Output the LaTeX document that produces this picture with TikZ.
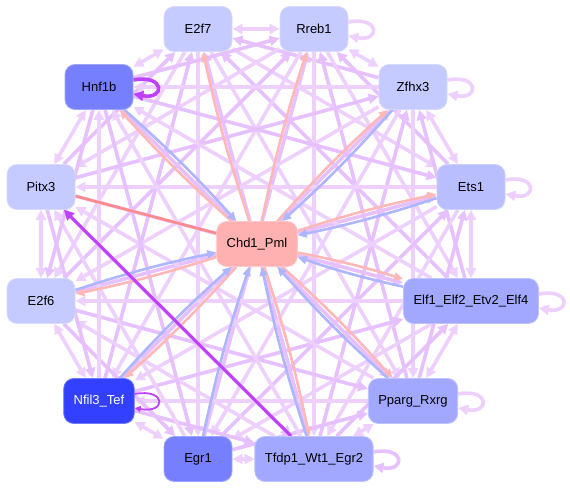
\documentclass[tikz,border=0pt]{standalone}
\usepackage{fontspec}
\setmainfont{Liberation Sans}
\usetikzlibrary{positioning,arrows.meta}

\definecolor{tflight}{RGB}{197,202,255}
\definecolor{tfmid}{RGB}{184,190,255}
\definecolor{tfmed}{RGB}{162,168,255}
\definecolor{tfdark}{RGB}{118,128,255}
\definecolor{tfdeep}{RGB}{51,64,255}
\definecolor{tfpink}{RGB}{255,176,176}
\definecolor{edgelilac}{RGB}{238,208,255}
\definecolor{edgeviolet}{RGB}{230,192,255}
\definecolor{edgesalmon}{RGB}{255,184,184}
\definecolor{edgered}{RGB}{255,138,138}
\definecolor{edgeblue}{RGB}{174,182,255}
\definecolor{edgepurple}{RGB}{192,64,255}

\pgfdeclarelayer{edges}
\pgfsetlayers{edges,main}

\tikzset{
  tf/.style={rounded corners=10pt, fill=#1, draw=#1!70!white, line width=0.8pt,
    minimum width=68pt, minimum height=45pt, inner xsep=10pt,
    font=\fontsize{13}{15}\selectfont},
  lilac/.style={draw=edgelilac, line width=3.6pt},
  violet/.style={draw=edgeviolet, line width=3.6pt},
  salmon/.style={draw=edgesalmon, line width=2.6pt, -{Triangle[length=9pt,width=8pt]}},
  bluish/.style={draw=edgeblue, line width=2.6pt, -{Triangle[length=9pt,width=8pt]}},
  selfloop/.style={to path={([yshift=7pt]\tikztostart.east) .. controls +(32,6) and +(32,-6) .. ([yshift=-7pt]\tikztostart.east)}}
}

\begin{document}
\begin{tikzpicture}[x=1pt,y=1pt,>={Triangle[length=10pt,width=10pt]}]
  \useasboundingbox (0,0) rectangle (570,489);

  \node[tf=tflight] (E2f7) at (198,460) {E2f7};
  \node[tf=tflight] (Rreb1) at (314,460) {Rreb1};
  \node[tf=tfdark] (Hnf1b) at (99,402) {Hnf1b};
  \node[tf=tflight] (Zfhx3) at (413,402) {Zfhx3};
  \node[tf=tflight] (Pitx3) at (41,302) {Pitx3};
  \node[tf=tfmid] (Ets1) at (471,302) {Ets1};
  \node[tf=tfpink] (Chd1) at (257,245) {Chd1\_Pml};
  \node[tf=tflight] (E2f6) at (41,188) {E2f6};
  \node[tf=tfmed] (Elf1) at (471,188) {Elf1\_Elf2\_Etv2\_Elf4};
  \node[tf=tfdeep, text=white] (Nfil3) at (99,88) {Nfil3\_Tef};
  \node[tf=tfmed] (Pparg) at (413,88) {Pparg\_Rxrg};
  \node[tf=tfdark] (Egr1) at (198,30) {Egr1};
  \node[tf=tfmed] (Tfdp1) at (314,30) {Tfdp1\_Wt1\_Egr2};

  \begin{pgfonlayer}{edges}
  % outer ring, every pair
  \foreach \a [count=\i] in {E2f7,Rreb1,Zfhx3,Ets1,Elf1,Pparg,Tfdp1,Egr1,Nfil3,E2f6,Pitx3,Hnf1b}
    \foreach \b [count=\j] in {E2f7,Rreb1,Zfhx3,Ets1,Elf1,Pparg,Tfdp1,Egr1,Nfil3,E2f6,Pitx3,Hnf1b}
    {
      \ifnum\j>\i
        \pgfmathtruncatemacro{\gap}{\j-\i}
        \pgfmathtruncatemacro{\odd}{mod(\i+\j,2)}
        \ifnum\gap=1
          \draw[lilac,<->] (\a) -- (\b);
        \else\ifnum\gap=11
          \draw[lilac,<->] (\a) -- (\b);
        \else\ifnum\odd=1
          \draw[lilac,->] (\a) -- (\b);
        \else
          \draw[violet,->] (\b) -- (\a);
        \fi\fi\fi
      \fi
    }

  % self loops
  \foreach \n in {Rreb1,Zfhx3,Ets1,Elf1,Pparg}
    \draw[lilac,->] (\n) to[selfloop] (\n);
  \draw[violet,->] (Tfdp1) to[selfloop] (Tfdp1);
  \draw[edgepurple,line width=3.6pt,->] (Hnf1b) to[selfloop] (Hnf1b);
  \draw[edgepurple,line width=1.8pt,-{Triangle[length=6pt,width=6pt]}] (Nfil3) to[selfloop] (Nfil3);

  % Chd1_Pml in and out
  \foreach \n in {E2f7,Rreb1,Hnf1b,Zfhx3,Ets1,Elf1,Pparg,Tfdp1,Nfil3,E2f6}
    \draw[salmon] (Chd1) to[bend left=3] (\n);
  \foreach \n in {Hnf1b,Zfhx3,Ets1,Elf1,Pparg,Tfdp1,Nfil3,E2f6,Egr1}
    \draw[bluish] (\n) to[bend left=3] (Chd1);
  \draw[edgered,line width=2.6pt] (Pitx3) -- (Chd1);
  \draw[edgepurple,line width=3pt,->] (Tfdp1) -- (Pitx3);
  \end{pgfonlayer}
\end{tikzpicture}
\end{document}
